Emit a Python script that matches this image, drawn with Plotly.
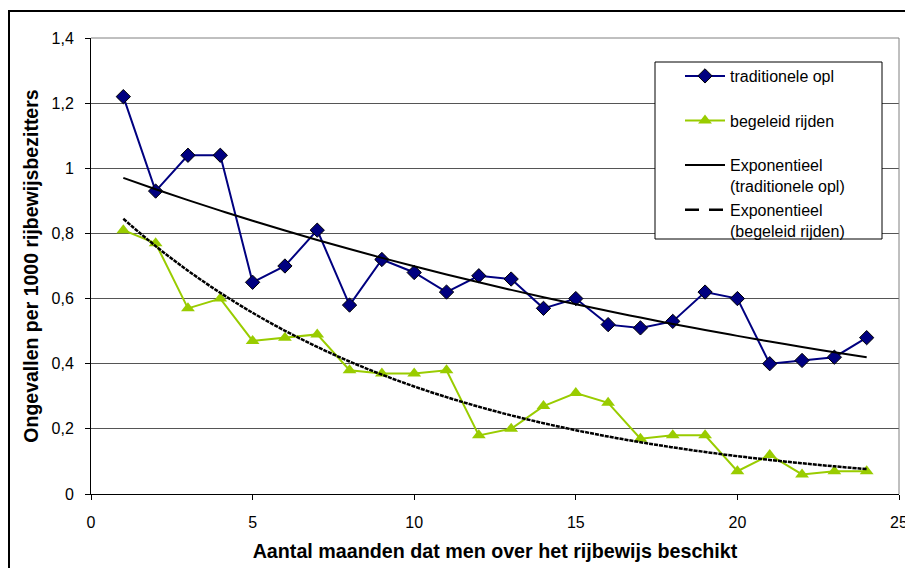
import numpy as np
import plotly.graph_objects as go

# Months since obtaining the licence
months = list(range(1, 25))

# Accidents per 1000 licence holders
traditionele_opl = [1.22, 0.93, 1.04, 1.04, 0.65, 0.70, 0.81, 0.58, 0.72, 0.68, 0.62, 0.67,
                    0.66, 0.57, 0.60, 0.52, 0.51, 0.53, 0.62, 0.60, 0.40, 0.41, 0.42, 0.48]
begeleid_rijden = [0.81, 0.77, 0.57, 0.60, 0.47, 0.48, 0.49, 0.38, 0.37, 0.37, 0.38, 0.18,
                   0.20, 0.27, 0.31, 0.28, 0.17, 0.18, 0.18, 0.07, 0.12, 0.06, 0.07, 0.07]

y_ticks = [0, 0.2, 0.4, 0.6, 0.8, 1.0, 1.2, 1.4]
x_ticks = [0, 5, 10, 15, 20, 25]

FONT = "Arial, 'Liberation Sans', sans-serif"


def exp_trend(x, y):
    """Exponential least-squares trend y = a*exp(b*x), fitted on ln(y)."""
    x = np.asarray(x, dtype=float)
    b, ln_a = np.polyfit(x, np.log(np.asarray(y, dtype=float)), 1)
    return np.exp(ln_a) * np.exp(b * x)


trend_trad = exp_trend(months, traditionele_opl)
trend_beg = exp_trend(months, begeleid_rijden)

fig = go.Figure()

fig.add_trace(go.Scatter(
    x=months, y=traditionele_opl, mode="lines+markers",
    name="traditionele opl<br> ", legendgroup="a",
    line=dict(color="#000080", width=2),
    marker=dict(symbol="diamond", size=11, color="#000080",
                line=dict(color="#000000", width=1)),
))
fig.add_trace(go.Scatter(
    x=months, y=begeleid_rijden, mode="lines+markers",
    name="begeleid rijden<br> ", legendgroup="b",
    line=dict(color="#99CC00", width=2),
    marker=dict(symbol="triangle-up", size=12, color="#99CC00",
                line=dict(color="#99CC00", width=0)),
))
fig.add_trace(go.Scatter(
    x=months, y=trend_trad, mode="lines", line_shape="spline",
    name="Exponentieel<br>(traditionele opl)", legendgroup="c",
    line=dict(color="#000000", width=2),
))
fig.add_trace(go.Scatter(
    x=months, y=trend_beg, mode="lines", line_shape="spline",
    showlegend=False, legendgroup="d",
    line=dict(color="#000000", width=2.5, dash="4px,1px"),
))
# legend entry for the dashed trend (long dashes in the key)
fig.add_trace(go.Scatter(
    x=[None], y=[None], mode="lines",
    name="Exponentieel<br>(begeleid rijden)", legendgroup="d",
    line=dict(color="#000000", width=2.5, dash="14px,10px"),
))

# plot area spans x 91..899 px and y 38..494 px
PW, PH = 808.0, 456.0


def px_x(p):
    return (p - 91) / PW


def px_y(p):
    return (494 - p) / PH


fig.update_layout(
    width=905, height=568,
    margin=dict(l=91, r=6, t=38, b=74, autoexpand=False),
    paper_bgcolor="white", plot_bgcolor="white",
    separators=", ",
    font=dict(family=FONT, size=16, color="#000000"),
    showlegend=True,
    legend=dict(
        x=px_x(680), y=px_y(59), xanchor="left", yanchor="top",
        bgcolor="rgba(0,0,0,0)", borderwidth=0,
        font=dict(family=FONT, size=16, color="#000000"),
        tracegroupgap=0, valign="top", itemwidth=40,
        traceorder="normal",
    ),
    xaxis=dict(
        range=[0, 25], tickvals=x_ticks, showgrid=False, zeroline=False,
        showline=True, linecolor="#000000", linewidth=1,
        ticks="outside", ticklen=5, tickcolor="#000000",
        tickfont=dict(size=16), ticklabelstandoff=9,
        ticklabeloverflow="allow", automargin=False,
        title=dict(text="<b>Aantal maanden dat men over het rijbewijs beschikt</b>",
                   font=dict(size=19.7), standoff=14),
    ),
    yaxis=dict(
        range=[0, 1.4], tickvals=y_ticks, showgrid=True, gridcolor="#555555",
        gridwidth=1, zeroline=False,
        showline=True, linecolor="#000000", linewidth=1,
        ticks="outside", ticklen=5, tickcolor="#000000",
        tickfont=dict(size=16), ticklabelstandoff=8, automargin=False,
        title=dict(text="<b>Ongevallen per 1000 rijbewijsbezitters</b>",
                   font=dict(size=19.5), standoff=7),
    ),
    shapes=[
        # plot-area frame on the right and top
        dict(type="line", xref="paper", yref="paper", x0=1, x1=1, y0=0, y1=1,
             line=dict(color="#808080", width=1)),
        dict(type="line", xref="paper", yref="paper", x0=0, x1=1, y0=1, y1=1,
             line=dict(color="#808080", width=1)),
        # legend box
        dict(type="rect", xref="paper", yref="paper",
             x0=px_x(655), x1=px_x(882), y0=px_y(239), y1=px_y(62),
             line=dict(color="#000000", width=1), fillcolor="white",
             layer="above"),
        # outer chart border
        dict(type="rect", xref="paper", yref="paper",
             x0=px_x(9), x1=1.1, y0=-0.3, y1=px_y(11),
             line=dict(color="#000000", width=2), fillcolor="rgba(0,0,0,0)",
             layer="above"),
    ],
)

fig.write_html("out.html")
